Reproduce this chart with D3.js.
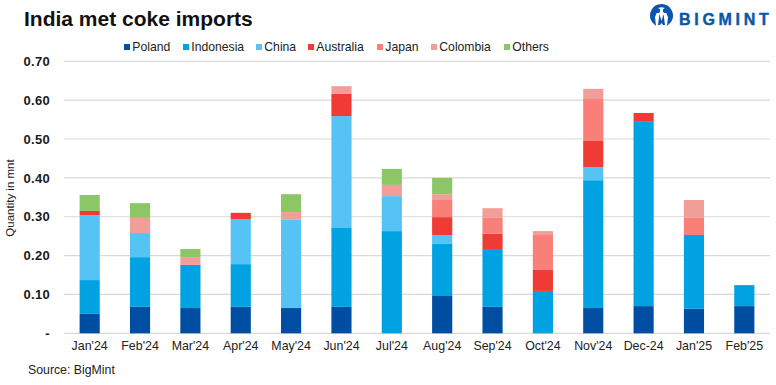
<!DOCTYPE html>
<html><head><meta charset="utf-8">
<script src="https://cdn.jsdelivr.net/npm/d3@7/dist/d3.min.js"></script>
<style>html,body{margin:0;padding:0;background:#fff}svg{display:block}text{font-family:"Liberation Sans",Arial,sans-serif}</style>
</head><body><div id="c"></div>
<script>
const months=["Jan'24","Feb'24","Mar'24","Apr'24","May'24","Jun'24","Jul'24","Aug'24","Sep'24","Oct'24","Nov'24","Dec-24","Jan'25","Feb'25"];
const seriesNames=["Poland","Indonesia","China","Australia","Japan","Colombia","Others"];
const seriesColors=["#004ea2","#00a2e1","#55c3f3","#f03a35","#f98078","#f29e98","#8cc665"];
const poland   =[.050,.068,.065,.068,.065,.068,0,.096,.068,0,.065,.070,.063,.070];
const indonesia=[.087,.128,.111,.110,0,.203,.263,.134,.149,.109,.329,.476,.190,.054];
const china    =[.167,.062,0,.116,.227,.288,.090,.023,0,0,.034,0,0,0];
const australia=[.011,0,0,.016,0,.057,0,.046,.039,.054,.067,.021,0,0];
const japan    =[0,0,0,0,0,0,0,.044,.041,.090,.108,0,.044,0];
const colombia =[0,.039,.020,0,.020,.020,.029,.015,.025,.010,.026,0,.046,0];
const others   =[.041,.038,.021,0,.046,0,.041,.042,0,0,0,0,0,0];
const yTicks=[0,.1,.2,.3,.4,.5,.6,.7];
const values=[poland,indonesia,china,australia,japan,colombia,others];

const W=776,H=385;
const svg=d3.select("#c").append("svg").attr("width",W).attr("height",H);
const x=d3.scaleBand().domain(months).range([64.5,769.5]).paddingInner(0.6).paddingOuter(0.3);
const y=d3.scaleLinear().domain([0,.7]).range([333.3,61.3]);

svg.append("g").selectAll("line").data(yTicks).join("line")
 .attr("x1",64).attr("x2",770).attr("y1",d=>y(d)).attr("y2",d=>y(d))
 .attr("stroke","#d9d9d9").attr("stroke-width",1.2);

const rows=months.map((m,i)=>{const r={month:m};seriesNames.forEach((s,j)=>r[s]=values[j][i]);return r;});
const stack=d3.stack().keys(seriesNames)(rows);
svg.append("g").selectAll("g").data(stack).join("g")
 .attr("fill",(d,i)=>seriesColors[i])
 .selectAll("rect").data(d=>d.filter(p=>p[1]-p[0]>0)).join("rect")
 .attr("x",d=>x(d.data.month)).attr("width",x.bandwidth())
 .attr("y",d=>y(d[1])).attr("height",d=>y(d[0])-y(d[1]));

const ya=svg.append("g").attr("transform","translate(50,0)")
 .call(d3.axisLeft(y).tickValues(yTicks).tickSize(0).tickPadding(0).tickFormat(d=>d===0?"-":d3.format(".2f")(d)));
ya.select(".domain").remove();
ya.selectAll("text").attr("font-size",13).attr("font-weight","bold").attr("fill","#1a1a1a")
 .style("font-family",'"Liberation Sans",Arial,sans-serif').attr("letter-spacing",0.3);

const xa=svg.append("g").attr("transform","translate(0,341.5)")
 .call(d3.axisBottom(x).tickSize(0).tickPadding(0));
xa.select(".domain").remove();
xa.selectAll("text").attr("font-size",12.4).attr("fill","#222")
 .style("font-family",'"Liberation Sans",Arial,sans-serif');

svg.append("text").attr("x",24).attr("y",25.5).attr("font-size",21).attr("font-weight","bold").attr("fill","#111").text("India met coke imports");
svg.append("text").attr("transform","translate(14,198) rotate(-90)").attr("text-anchor","middle").attr("font-size",11.5).attr("fill","#222").text("Quantity in mnt");
svg.append("text").attr("x",28).attr("y",374).attr("font-size",12.3).attr("fill","#222").text("Source: BigMint");

const legendX=[124,183,256,308,377,431,504];
const lg=svg.append("g").selectAll("g").data(seriesNames).join("g")
 .attr("transform",(d,i)=>`translate(${legendX[i]},0)`);
lg.append("rect").attr("y",44).attr("width",6).attr("height",6).attr("fill",(d,i)=>seriesColors[i]);
lg.append("text").attr("x",8.3).attr("y",51.3).attr("font-size",12.2).attr("fill","#222").text(d=>d);

const logo=svg.append("g").attr("transform","translate(650,4)").attr("fill","#0a56ad");
logo.append("path").attr("fill-rule","evenodd").attr("d","M11.5 0A11.5 11.5 0 0 0 2 18L6 22L5 13L8 6L5 6A9 9 0 0 1 18 6L15 6L18 13L17 22L21 18A11.5 11.5 0 0 0 11.5 0Z");
logo.append("circle").attr("cx",7.5).attr("cy",6.5).attr("r",2.6);
logo.append("circle").attr("cx",15.5).attr("cy",6.5).attr("r",2.6);
logo.append("path").attr("d","M9.5 10L11.5 17L13.5 10L15 21H13L11.5 19L10 21H8Z");
svg.append("text").attr("x",679).attr("y",24.5).attr("font-size",16).attr("font-weight","bold").attr("fill","#0a56ad").attr("stroke","#0a56ad").attr("stroke-width",0.4).attr("letter-spacing",3.7).text("BIGMINT");
</script></body></html>
